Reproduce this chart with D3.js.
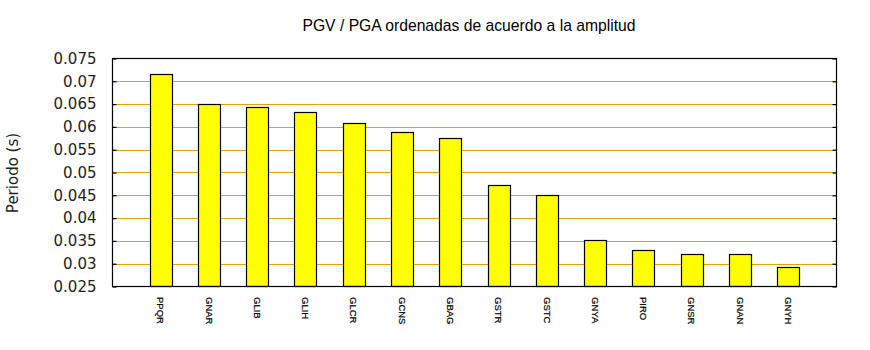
<!DOCTYPE html>
<html>
<head>
<meta charset="utf-8">
<script src="https://cdn.jsdelivr.net/npm/d3@7"></script>
<style>
  html, body { margin: 0; padding: 0; background: #fff; }
  svg { display: block; }
</style>
</head>
<body>
<svg id="chart" width="870" height="350"></svg>
<script>
// Stations sorted by amplitude and their PGV/PGA period values (s)
const stations = ["PPQR", "GNAR", "GLIB", "GLIH", "GLCR", "GCNS", "GBAG",
                  "GSTR", "GSTC", "GNYA", "PIRO", "GNSR", "GNAN", "GNYH"];
const periods  = [0.0717, 0.0651, 0.0643, 0.0632, 0.0608, 0.0588, 0.0575,
                  0.0472, 0.0450, 0.0353, 0.0331, 0.0322, 0.0322, 0.0292];
const yTicks   = [0.025, 0.03, 0.035, 0.04, 0.045, 0.05, 0.055, 0.06, 0.065, 0.07, 0.075];
const yTickLabels = ["0.025", "0.03", "0.035", "0.04", "0.045", "0.05",
                     "0.055", "0.06", "0.065", "0.07", "0.075"];

const svg = d3.select("#chart");
const plotL = 112.5, plotR = 836.5, plotT = 58.5, plotB = 286.5;

// Bars sit at integer slots 1..n on a linear axis spanning 0..n+1
const x = d3.scaleLinear().domain([0, stations.length + 1]).range([plotL, plotR]);
const y = d3.scaleLinear().domain([0.025, 0.075]).range([plotB, plotT]);
const barW = (x(1) - x(0)) * 0.46;

// Horizontal grid lines
svg.append("g")
  .selectAll("line")
  .data(yTicks.slice(1, -1))
  .join("line")
  .attr("x1", plotL).attr("x2", plotR)
  .attr("y1", d => Math.round(y(d)) + 0.5).attr("y2", d => Math.round(y(d)) + 0.5)
  .attr("stroke", "#e6a000").attr("stroke-width", 1);

// Bars
svg.append("g")
  .selectAll("rect")
  .data(periods)
  .join("rect")
  .attr("x", (d, i) => Math.round(x(i + 1) - barW / 2) + 0.5)
  .attr("width", Math.round(barW))
  .attr("y", d => Math.round(y(d)) + 0.5)
  .attr("height", d => plotB - (Math.round(y(d)) + 0.5))
  .attr("fill", "#ffff00")
  .attr("stroke", "#000").attr("stroke-width", 1.2);

// Plot frame
svg.append("rect")
  .attr("x", plotL).attr("y", plotT)
  .attr("width", plotR - plotL).attr("height", plotB - plotT)
  .attr("fill", "none").attr("stroke", "#000").attr("stroke-width", 1.2);

// Left axis: inward ticks and labels
const yAxisL = d3.axisLeft(y).tickValues(yTicks)
  .tickFormat((d, i) => yTickLabels[i]).tickSizeInner(-4).tickSizeOuter(0).tickPadding(16);
const gL = svg.append("g").attr("transform", `translate(${plotL},0)`).call(yAxisL);
gL.select(".domain").remove();
gL.selectAll(".tick line").attr("stroke", "#000").attr("stroke-width", 1.2);
gL.selectAll(".tick text")
  .attr("font-family", "DejaVu Sans, sans-serif").attr("font-size", 15)
  .attr("fill", "#222");

// Right axis: inward ticks only
const yAxisR = d3.axisRight(y).tickValues(yTicks).tickFormat("").tickSizeInner(-4).tickSizeOuter(0);
const gR = svg.append("g").attr("transform", `translate(${plotR},0)`).call(yAxisR);
gR.select(".domain").remove();
gR.selectAll(".tick line").attr("stroke", "#000").attr("stroke-width", 1.2);

// Station labels, rotated to read top-to-bottom
svg.append("g")
  .selectAll("text")
  .data(stations)
  .join("text")
  .attr("transform", (d, i) => `translate(${x(i + 1) - 3.4},297) rotate(90)`)
  .attr("font-family", "Liberation Sans, Arial, sans-serif")
  .attr("font-size", 9.5)
  .attr("fill", "#000")
  .attr("stroke", "#000").attr("stroke-width", 0.2)
  .text(d => d);

// Title
svg.append("text")
  .attr("x", 469).attr("y", 31)
  .attr("text-anchor", "middle")
  .attr("font-family", "Liberation Sans, Arial, sans-serif")
  .attr("font-size", 15.7).attr("fill", "#000")
  .text("PGV / PGA ordenadas de acuerdo a la amplitud");

// Y axis title
svg.append("text")
  .attr("transform", "translate(18,173) rotate(-90)")
  .attr("text-anchor", "middle")
  .attr("font-family", "DejaVu Sans, sans-serif")
  .attr("font-size", 15).attr("fill", "#222")
  .text("Periodo (s)");
</script>
</body>
</html>
